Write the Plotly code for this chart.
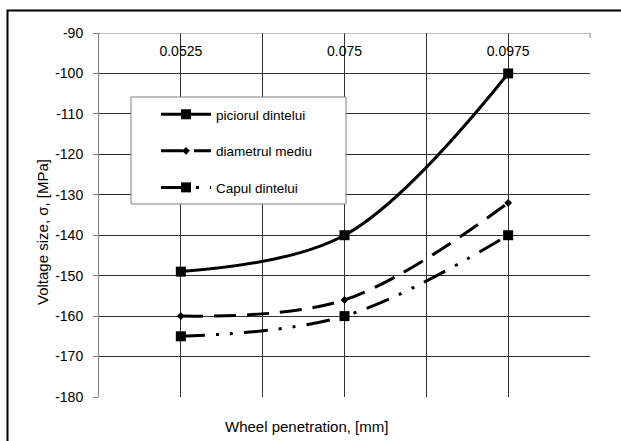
import plotly.graph_objects as go

# ---- data ----
categories = ["0.0525", "0.075", "0.0975"]
piciorul_dintelui = [-149, -140, -100]
diametrul_mediu = [-160, -156, -132]
capul_dintelui = [-165, -160, -140]
y_ticks = [-180, -170, -160, -150, -140, -130, -120, -110, -100, -90]
y_labels = [str(v) for v in y_ticks]

x_pos = list(range(len(categories)))
x_grid = [0, 0.5, 1, 1.5, 2]
x_text = []
for v in x_grid:
    x_text.append(categories[int(v)] if float(v).is_integer() else "")

W, H = 621, 441
L, R, T, B = 99, 31, 33, 44
pw, ph = W - L - R, H - T - B


def px_x(p):
    return (p - L) / pw


def px_y(p):
    return (H - B - p) / ph


FONT = "Liberation Sans, Arial, sans-serif"

fig = go.Figure()
fig.add_trace(go.Scatter(
    x=x_pos, y=piciorul_dintelui, name="piciorul dintelui", mode="lines+markers",
    line=dict(color="black", width=3, shape="spline", smoothing=1),
    marker=dict(symbol="square", size=10, color="black"),
    legendgroup="a",
))
fig.add_trace(go.Scatter(
    x=x_pos, y=diametrul_mediu, name="diametrul mediu", mode="lines+markers",
    line=dict(color="black", width=3, shape="spline", smoothing=1, dash="22px,11px"),
    marker=dict(symbol="diamond", size=6, color="black"),
    legendgroup="b",
))
fig.add_trace(go.Scatter(
    x=x_pos, y=capul_dintelui, name="Capul dintelui", mode="lines+markers",
    line=dict(color="black", width=3, shape="spline", smoothing=1,
              dash="24px,11px,3px,11px,3px,11px"),
    marker=dict(symbol="square", size=10, color="black"),
    legendgroup="c",
))

fig.update_layout(
    width=W, height=H,
    margin=dict(l=L, r=R, t=T, b=B, pad=0),
    paper_bgcolor="white", plot_bgcolor="white",
    font=dict(family=FONT, size=14, color="black"),
    showlegend=True,
    legend=dict(
        x=px_x(156), y=px_y(99), xanchor="left", yanchor="top",
        bgcolor="rgba(0,0,0,0)", borderwidth=0,
        font=dict(family=FONT, size=13.5, color="black"),
        tracegroupgap=16, itemwidth=50, traceorder="grouped",
    ),
    xaxis=dict(
        range=[-0.5, 2.5], side="bottom", anchor="free", position=px_y(41),
        tickvals=x_grid, ticktext=x_text, ticks="", showline=False,
        showgrid=True, gridcolor="#303030", gridwidth=1,
        zeroline=False, tickfont=dict(size=14), ticklabelstandoff=0,
    ),
    yaxis=dict(
        range=[-180, -90], tickvals=y_ticks, ticktext=y_labels,
        ticks="outside", ticklen=5,
        tickcolor="#808080", showline=True, linecolor="#808080", linewidth=1,
        showgrid=True, gridcolor="#303030", gridwidth=1, zeroline=False,
        tickfont=dict(size=14), ticklabelstandoff=7,
    ),
    shapes=[
        dict(type="rect", xref="paper", yref="paper",
             x0=px_x(7.5), x1=px_x(700), y0=px_y(520), y1=px_y(10.5),
             line=dict(color="black", width=2), fillcolor="rgba(0,0,0,0)", layer="below"),
        # top axis line at the -90 level
        dict(type="line", xref="paper", yref="y",
             x0=0, x1=1, y0=y_ticks[-1], y1=y_ticks[-1],
             line=dict(color="#808080", width=1), layer="above"),
        dict(type="line", xref="paper", yref="y",
             x0=1, x1=1, y0=y_ticks[-1], y1=y_ticks[-1] - 1.2,
             line=dict(color="#808080", width=1), layer="above"),
        dict(type="rect", xref="paper", yref="paper",
             x0=px_x(131), x1=px_x(346), y0=px_y(204), y1=px_y(97),
             line=dict(color="#808080", width=1), fillcolor="white", layer="above"),
    ],
    annotations=[
        dict(text="Wheel penetration, [mm]", xref="paper", yref="paper",
             x=px_x(306), y=px_y(426), showarrow=False, xanchor="center", yanchor="middle",
             font=dict(family=FONT, size=15, color="black")),
        dict(text="Voltage size, σ, [MPa]", xref="paper", yref="paper",
             x=px_x(42), y=px_y(232), showarrow=False, textangle=-90,
             xanchor="center", yanchor="middle",
             font=dict(family=FONT, size=15, color="black")),
    ],
)

fig.write_html("out.html")
